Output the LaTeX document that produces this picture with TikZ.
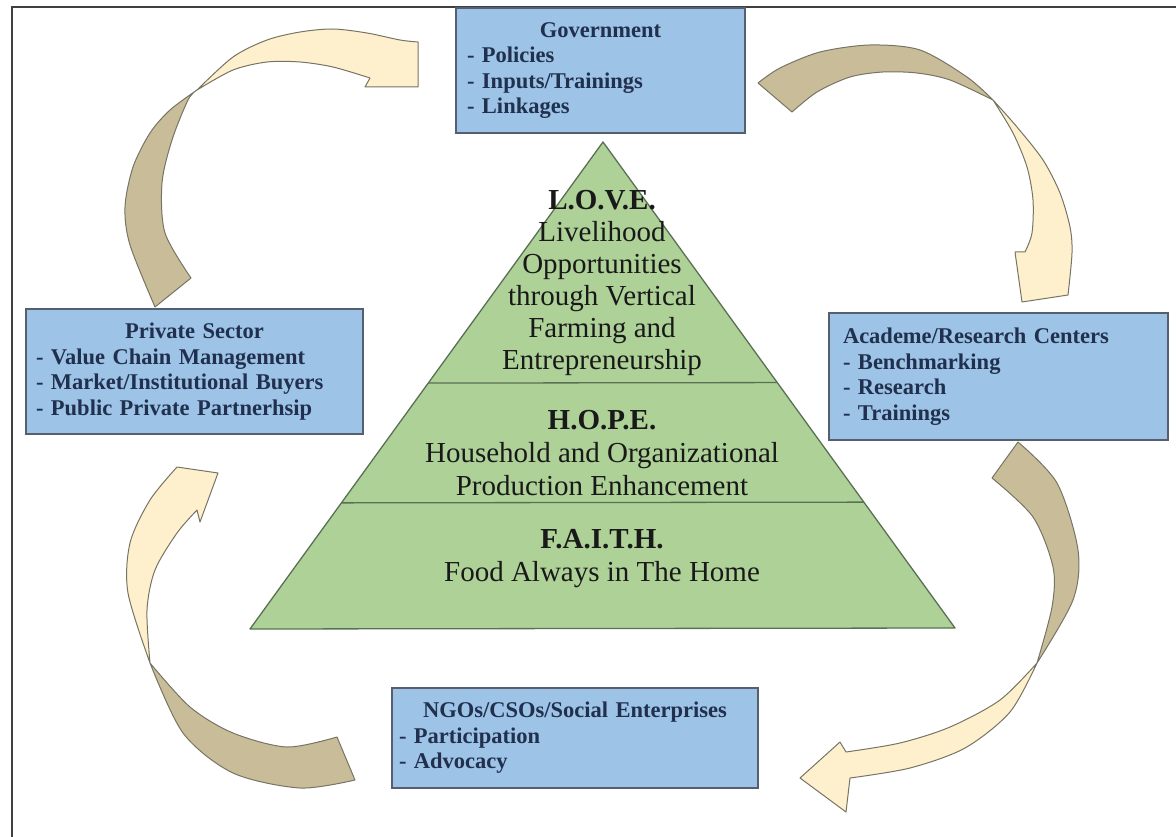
\documentclass[tikz,border=0pt]{standalone}
\usepackage{fontspec}
\setmainfont{Liberation Serif}
\usetikzlibrary{positioning,calc}
\definecolor{boxblue}{RGB}{157,195,230}
\definecolor{boxline}{RGB}{85,95,110}
\definecolor{navy}{RGB}{32,48,78}
\definecolor{pyrgreen}{RGB}{174,209,152}
\definecolor{pyrline}{RGB}{90,112,84}
\definecolor{tanback}{RGB}{201,189,153}
\definecolor{creamfront}{RGB}{255,240,205}
\definecolor{arrline}{RGB}{118,116,100}
\tikzset{
  box/.style={draw=boxline, line width=1.3pt, fill=boxblue, inner sep=0pt,
    text=navy, font=\fontsize{22.5}{25.5}\selectfont\bfseries, align=left},
  lvl/.style={text=black!90, font=\fontsize{29}{32}\selectfont, align=center},
  back/.style={fill=tanback, draw=arrline, line width=1pt, line join=round},
  front/.style={fill=creamfront, draw=arrline, line width=1pt, line join=round}}

\begin{document}
\begin{tikzpicture}[x=1pt, y=-1pt]
\useasboundingbox (0,0) rectangle (1176,837);
\draw[line width=2.5pt, black!75] (12,837) -- (12,7) -- (1176,7);

% curved arrows, each one a dark back half and a light front half
\filldraw[back] plot[smooth] coordinates {(155,307) (130,245) (125,207) (133,167) (150,133) (170,110) (197,90)}
  -- plot[smooth] coordinates {(197,90) (188,100) (172,140) (162,183) (165,233) (191,278)} -- cycle;
\filldraw[front] plot[smooth] coordinates {(197,90) (233,57) (267,40) (300,32) (333,29) (367,33) (400,40) (418,42)}
  -- (418,87) -- (365,87) -- (370,78)
  -- plot[smooth] coordinates {(370,78) (333,67) (300,62) (267,62) (233,70) (197,90)} -- cycle;

\filldraw[back] plot[smooth] coordinates {(758,83) (780,68) (820,52) (870,45) (920,50) (967,77) (993,100)}
  -- plot[smooth] coordinates {(993,100) (950,80) (917,73) (883,72) (850,77) (817,92) (792,112)} -- cycle;
\filldraw[front] plot[smooth] coordinates {(993,100) (1017,127) (1043,160) (1060,193) (1070,227) (1072,253) (1068,295)}
  -- (1022,302) -- (1015,252) -- (1025,252)
  -- plot[smooth] coordinates {(1025,252) (1032,233) (1033,200) (1027,167) (1013,133) (993,100)} -- cycle;

\filldraw[back] plot[smooth] coordinates {(1018,442) (1057,483) (1078,550) (1073,600) (1037,663)}
  -- plot[smooth] coordinates {(1037,663) (1052,607) (1053,567) (1033,517) (992,478)} -- cycle;
\filldraw[front] plot[smooth] coordinates {(1037,663) (1010,712) (965,748) (910,768) (850,778)}
  -- (846,812) -- (800,778) -- (840,742) -- (846,752)
  -- plot[smooth] coordinates {(846,752) (900,743) (950,727) (1000,700) (1037,663)} -- cycle;

\filldraw[back] plot[smooth] coordinates {(355,780) (300,788) (233,773) (183,733) (150,663)}
  -- plot[smooth] coordinates {(150,663) (190,707) (233,733) (287,747) (337,737)} -- cycle;
\filldraw[front] plot[smooth] coordinates {(150,663) (128,593) (130,543) (150,500) (177,467)}
  -- (218,473) -- (200,522) -- (197,510)
  -- plot[smooth] coordinates {(197,510) (177,533) (155,570) (147,610) (150,663)} -- cycle;

% pyramid
\coordinate (top) at (603,142);
\coordinate (bl) at (250,629);
\coordinate (br) at (955,628);
\draw[fill=pyrgreen, draw=pyrline, line width=1.3pt, line join=round] (top) -- (br) -- (bl) -- cycle;
\draw[pyrline, line width=1.3pt] ($(top)!0.495!(bl)$) -- ($(top)!0.495!(br)$);
\draw[pyrline, line width=1.3pt] ($(top)!0.741!(bl)$) -- ($(top)!0.741!(br)$);

\node[lvl] (love) at (602,283) {\textbf{L.O.V.E.}\\Livelihood\\Opportunities\\through Vertical\\Farming and\\Entrepreneurship};
\node[lvl, font=\fontsize{29}{33}\selectfont] (hope) at (602,453) {\textbf{H.O.P.E.}\\Household and Organizational\\Production Enhancement};
\node[lvl, font=\fontsize{29}{33}\selectfont] (faith) at (602,559) {\textbf{F.A.I.T.H.}\\Food Always in The Home};

% actors
\node[box, minimum width=289pt, minimum height=125pt, text width=267pt] (gov) at (600.5,70.5)
  {\makebox[\linewidth]{Government}\\- Policies\\- Inputs/Trainings\\- Linkages};
\node[box, minimum width=337pt, minimum height=125pt, text width=317pt] (priv) at (194.5,371.5)
  {\makebox[\linewidth]{Private Sector}\\- Value Chain Management\\- Market/Institutional Buyers\\- Public Private Partnerhsip};
\node[box, minimum width=339pt, minimum height=127pt, text width=311pt] (acad) at (998.5,376.5)
  {Academe/Research Centers\\- Benchmarking\\- Research\\- Trainings};
\node[box, minimum width=366pt, minimum height=100pt, text width=352pt] (ngo) at (575,738)
  {\makebox[\linewidth]{NGOs/CSOs/Social Enterprises}\\- Participation\\- Advocacy};
\end{tikzpicture}
\end{document}
